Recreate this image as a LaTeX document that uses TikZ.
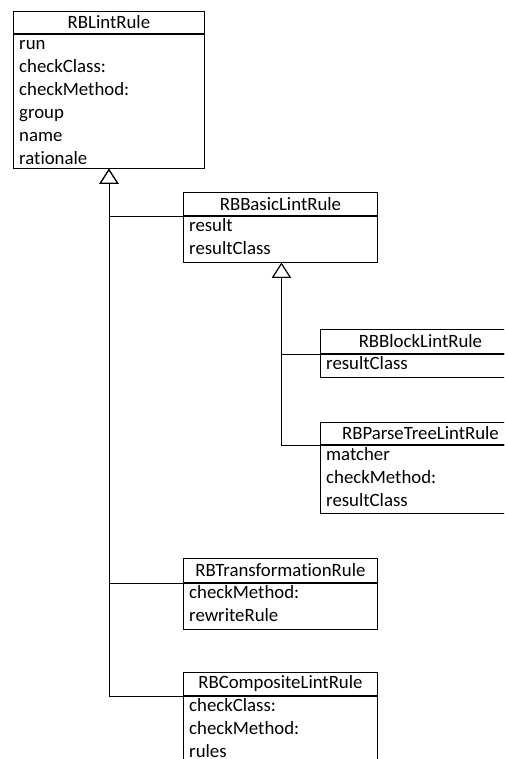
\documentclass[tikz,border=0pt]{standalone}
\usepackage{fontspec}
\setmainfont{Carlito}[Ligatures=NoCommon]
\usetikzlibrary{arrows.meta,calc}

\tikzset{
  classhead/.style={draw, line width=0.9pt, anchor=north west, inner sep=0pt,
    minimum height=#1, font=\fontsize{18.8}{22}\selectfont},
  classbody/.style={draw, line width=0.9pt, anchor=north west, inner sep=0pt,
    minimum height=#1},
  member/.style={anchor=base west, inner sep=0pt, font=\fontsize{18.8}{22}\selectfont},
  headrule/.style={line width=1.8pt},
  inherit/.style={line width=0.7pt, -{Triangle[open, length=15pt, width=19pt, line width=0.9pt]}},
}

% \umlclass{name}{left}{top}{width}{header height}{body height}{title}{members}
\newcommand\umlclass[8]{%
  \node[classhead=#5 pt, minimum width=#4 pt] (#1) at (#2,#3) {#7};
  \node[classbody=#6 pt, minimum width=#4 pt] (#1-body) at (#1.south west) {};
  \draw[headrule] (#1.south west) -- (#1.south east);
  \foreach \m [count=\i from 0] in {#8}
    \node[member] at ($(#1-body.north west)+(6,16+\i*23)$) {\m};
}

\begin{document}
\begin{tikzpicture}[x=1pt, y=-1pt]
  \useasboundingbox (0,0) rectangle (504,759);
  \clip (0,0) rectangle (504,759);
  \fill[white] (0,0) rectangle (504,759);

  % classes
  \umlclass{lint}{13}{11}{191}{22}{134}{RBLintRule}
    {run,checkClass:,checkMethod:,group,name,rationale}
  \umlclass{basic}{183}{192}{194}{23}{46}{RBBasicLintRule}
    {result,resultClass}
  \umlclass{block}{320}{329}{200}{24}{23}{RBBlockLintRule}
    {resultClass}
  \umlclass{parse}{320}{422}{200}{22}{68}{RBParseTreeLintRule}
    {matcher,checkMethod:,resultClass}
  \umlclass{transf}{183}{558}{194}{24}{46}{RBTransformationRule}
    {checkMethod:,rewriteRule}
  \umlclass{comp}{183}{672}{194}{23}{100}{RBCompositeLintRule}
    {checkClass:,checkMethod:,rules}

  % generalizations
  \draw[inherit] (comp.south west) -| (lint-body.south);
  \draw[inherit] (transf.south west) -| (lint-body.south);
  \draw[inherit] (basic.south west) -| (lint-body.south);
  \draw[inherit] (parse.south west) -| ([xshift=1pt]basic-body.south);
  \draw[inherit] (block.south west) -| ([xshift=1pt]basic-body.south);
\end{tikzpicture}
\end{document}
